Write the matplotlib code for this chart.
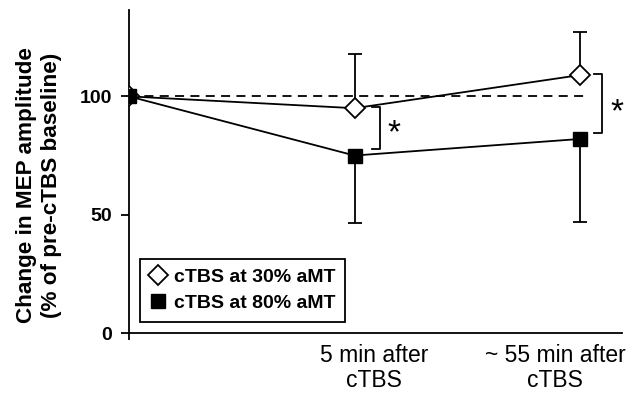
import matplotlib
matplotlib.use("Agg")
import matplotlib.pyplot as plt
from matplotlib.lines import Line2D

# data
positions = [0, 1, 2]
low_vals = [100, 95, 109]          # cTBS at 30% aMT
low_err_up = [0, 23, 18]
high_vals = [100, 75, 82]          # cTBS at 80% aMT
high_err_down = [0, 28.5, 35]
cat_labels = ["5 min after\ncTBS", "~ 55 min after\ncTBS"]
cat_label_pos = [1.087, 1.889]
sig_brackets = [(1.113, 95.4, 77.8, 1.175, 84.0), (2.098, 109.5, 84.5, 2.162, 93.0)]

plt.rcParams['font.family'] = ['Liberation Sans', 'DejaVu Sans']

fig = plt.figure(figsize=(6.35, 3.95), dpi=100)
ax = fig.add_axes([129 / 635, 62 / 395, 493 / 635, 323 / 395])

# reference line at baseline
ax.plot([0, 2.03], [100, 100], color='black', lw=1.3, ls=(0, (5, 3.5)), zorder=1)

ax.errorbar(positions, low_vals, yerr=[[0, 0, 0], low_err_up], color='black', lw=1.3,
            elinewidth=1.3, capsize=4.8, capthick=1.3, marker='D', ms=9.8,
            mfc='white', mec='black', mew=1.3, zorder=3)
ax.errorbar(positions, high_vals, yerr=[high_err_down, [0, 0, 0]], color='black', lw=1.3,
            elinewidth=1.3, capsize=4.8, capthick=1.3, marker='s', ms=10.5,
            mfc='black', mec='black', zorder=4)

# significance brackets
for bx, top, bot, sx, sy in sig_brackets:
    ax.plot([bx - 0.037, bx, bx, bx - 0.037], [top, top, bot, bot], color='black',
            lw=1.3, clip_on=False)
    ax.text(sx, sy, '*', fontsize=24, ha='center', va='center', clip_on=False)

ax.set_xlim(0, 2.186)
ax.set_ylim(0, 136.5)
ax.spines['top'].set_visible(False)
ax.spines['right'].set_visible(False)
for s in ('left', 'bottom'):
    ax.spines[s].set_linewidth(1.3)
    ax.spines[s].set_zorder(0)

ax.set_yticks([0, 50, 100])
ax.set_yticklabels(['0', '50', '100'], fontsize=14, fontweight='bold')
ax.tick_params(axis='y', length=6, width=1.3, pad=6)
ax.set_xticks(cat_label_pos)
ax.set_xticklabels(cat_labels, fontsize=16.5, linespacing=1.1)
ax.tick_params(axis='x', length=0, pad=8)
ax.set_xticks([0], minor=True)
ax.tick_params(axis='x', which='minor', length=5, width=1.3)

fig.text(39 / 635, 1 - 185 / 395, 'Change in MEP amplitude\n(% of pre-cTBS baseline)',
         rotation=90, ha='center', va='center', fontsize=16.2, fontweight='bold',
         linespacing=1.25, multialignment='center')

handles = [
    Line2D([], [], ls='none', marker='D', ms=9.8, mfc='white', mec='black', mew=1.3),
    Line2D([], [], ls='none', marker='s', ms=10.5, mfc='black', mec='black'),
]
leg = ax.legend(handles, ['cTBS at 30% aMT', 'cTBS at 80% aMT'], loc='lower left',
                bbox_to_anchor=(0.022, 0.034), borderaxespad=0,
                fancybox=False, framealpha=1, edgecolor='black', handlelength=0.9,
                handletextpad=0.35, borderpad=0.5, labelspacing=0.45,
                prop={'size': 14, 'weight': 'bold'})
leg.get_frame().set_linewidth(1.3)

fig.savefig('out.png', dpi=100)
